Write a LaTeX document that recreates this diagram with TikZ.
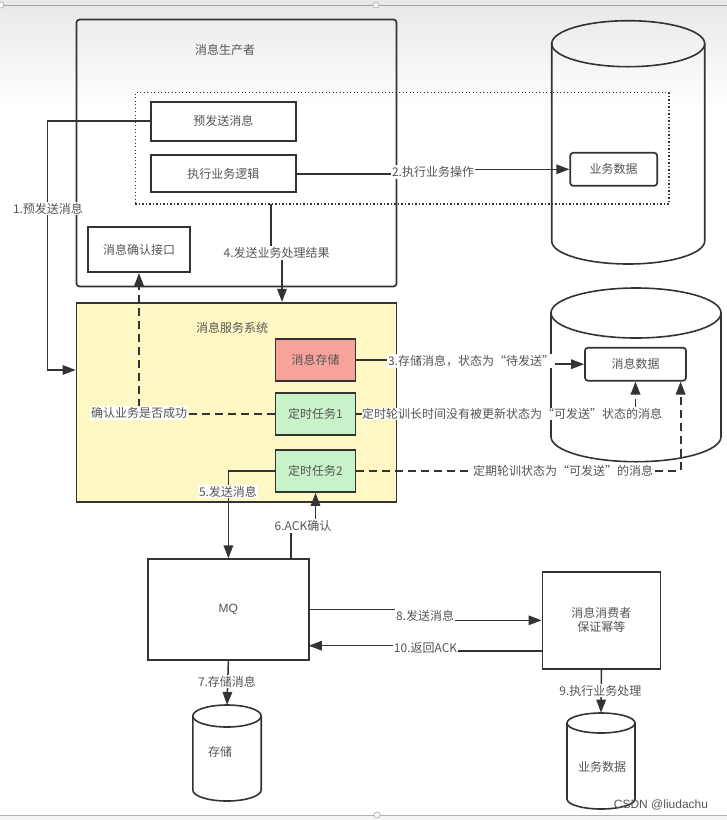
\documentclass[tikz,border=0pt]{standalone}
\usepackage{fontspec}
\setmainfont{Noto Sans CJK SC}
\usetikzlibrary{arrows.meta}
\definecolor{ln}{HTML}{333333}
\definecolor{tx}{HTML}{555555}
\definecolor{svcfill}{HTML}{FFF8C4}
\definecolor{storefill}{HTML}{F7A29B}
\definecolor{taskfill}{HTML}{C8F2C8}
\newcommand\drawcyl[5]{%
  \draw[cyl] (#1-#2,#3) -- (#1-#2,#4) arc[start angle=180,end angle=0,x radius=#2,y radius=#5] -- (#1+#2,#3);
  \draw[cyl] (#1,#3) ellipse[x radius=#2,y radius=#5];}
\tikzset{
  every node/.style={font=\fontsize{12}{14}\selectfont, text=tx},
  box/.style={draw=ln, line width=1.7pt, inner sep=0pt},
  rbox/.style={box, rounded corners=3pt},
  cyl/.style={draw=ln, line width=1.6pt},
  lbl/.style={fill=white, inner sep=1pt},
  arr/.style={draw=ln, line width=1.5pt, -{Triangle[length=13pt,width=9.5pt]}},
  dsh/.style={arr, line width=1.9pt, dash pattern=on 8pt off 5pt},
}
\begin{document}
\begin{tikzpicture}[x=1pt,y=-1pt]
\useasboundingbox (0,0) rectangle (727,820);
% background
\fill[white] (0,0) rectangle (727,820);
\shade[top color=black!9, bottom color=white] (0,0) rectangle (727,110);
\draw[gray!70, line width=0.8pt] (0,5) -- (727,5);
\draw[gray!70, fill=white, line width=0.6pt] (376,5) circle[radius=3];
\draw[gray!70, fill=white, line width=0.6pt] (1,5) circle[radius=3];
\fill[gray!8] (0,815) rectangle (727,820);
\draw[gray!60, line width=0.8pt] (0,815) -- (727,815);
\draw[gray!70, fill=white, line width=0.6pt] (377,815) circle[radius=3];

% cylinders
\drawcyl{628.2}{76.5}{43.7}{241}{23}
\drawcyl{636}{85}{313}{436.7}{25}
\drawcyl{227}{34.2}{716}{790}{11}
\drawcyl{601}{34}{723}{799}{10}
\coordinate (cyl3top) at (227,705);
\coordinate (cyl4top) at (601,712.7);
\node at (220,751.7) {存储};
\node at (602,766.7) {业务数据};

% producer
\node[box, rounded corners=3pt, minimum width=320pt, minimum height=267pt] (prod) at (236.5,153) {};
\node at (225,50) {消息生产者};
\node[draw=ln, line width=1.4pt, dash pattern=on 1.3pt off 2.2pt, minimum width=533.6pt, minimum height=111.3pt] (dot) at (402.2,148.35) {};
\node[box, minimum width=145pt, minimum height=39pt] (pre) at (223.25,121.2) {预发送消息};
\node[box, minimum width=145pt, minimum height=37pt] (exec) at (223.25,173.8) {执行业务逻辑};
\node[box, minimum width=102pt, minimum height=45pt] (ackif) at (139,249.7) {消息确认接口};
\node[rbox, fill=white, minimum width=87pt, minimum height=33pt] (biz1) at (613.7,169.3) {业务数据};

% service system
\node[box, fill=svcfill, minimum width=320pt, minimum height=199pt] (svc) at (236.5,402.2) {};
\node at (232,328) {消息服务系统};
\node[box, fill=storefill, minimum width=80pt, minimum height=42pt] (store) at (315.5,360) {消息存储};
\node[box, fill=taskfill, minimum width=80pt, minimum height=42.6pt] (task1) at (315.5,414) {定时任务1};
\node[box, fill=taskfill, minimum width=80pt, minimum height=42pt] (task2) at (315.5,471) {定时任务2};
\node[rbox, fill=white, minimum width=101pt, minimum height=33pt] (msgdata) at (635.5,364.2) {消息数据};

% MQ and consumer
\node[box, minimum width=161pt, minimum height=101pt] (mq) at (228.4,609.7) {\fontspec{Liberation Sans}\fontsize{12}{14}\selectfont MQ};
\node[box, minimum width=118pt, minimum height=96.7pt, align=center] (cons) at (601.4,620.3) {消息消费者\\[0pt]保证幂等};

% 1
\coordinate (c1) at (47.7,370);
\draw[arr] (pre.west) -| (c1) -- (c1 -| svc.west);
\node[lbl] at (48,208.7) {1.预发送消息};
% 2
\coordinate (c2) at (433,173.8);
\draw[arr] (exec.east) -- (c2) |- (biz1.west);
\node[lbl] at (433,172) {2.执行业务操作};
% 3
\coordinate (c3) at (471,360);
\draw[arr] (store.east) -- (c3) |- (msgdata.west);
\node[lbl] at (471,361) {3.存储消息，状态为“待发送”};
% 4
\coordinate (c4a) at (271,204);
\coordinate (c4b) at (271,253);
\coordinate (c4c) at (282,253);
\draw[arr] (c4a) -- (c4b) -- (c4c) -- (c4c |- svc.north);
\node[lbl] at (276.7,253) {4.发送业务处理结果};
% confirm dashed
\draw[dsh] (task1.west) -| (ackif.south);
\node[lbl] at (139,413) {确认业务是否成功};
% task1 -> msgdata dashed
\draw[dsh] (task1.east) -| (msgdata.south);
\node[lbl, inner sep=0.5pt] at (512,414) {定时轮训长时间没有被更新状态为“可发送”状态的消息};
% task2 -> msgdata dashed
\coordinate (c5) at (680.6,471);
\draw[dsh] (task2.east) -- (c5) -- (c5 |- msgdata.south);
\node[lbl] at (563,471) {定期轮训状态为“可发送”的消息};
% 5
\draw[arr] (task2.west) -| (mq.north);
\node[lbl] at (228,491.7) {5.发送消息};
% 6
\coordinate (c6a) at (291,559.3);
\coordinate (c6b) at (291,526);
\draw[arr] (c6a) -- (c6b) -| (task2.south);
\node[lbl] at (303,526) {6.ACK确认};
% 7
\draw[arr] (mq.south) -- (cyl3top);
\node[lbl] at (227,681.7) {7.存储消息};
% 8
\coordinate (c8) at (425,609.7);
\draw[arr] (mq.east) -- (c8) |- (cons.west);
\node[lbl] at (425,615.7) {8.发送消息};
% 10
\coordinate (c10a) at (542.4,651);
\coordinate (c10b) at (425,651);
\coordinate (c10c) at (308.8,645.7);
\draw[arr] (c10a) -- (c10b) |- (c10c);
\node[lbl] at (425.6,647.7) {10.返回ACK};
% 9
\draw[arr] (cons.south) -- (cyl4top);
\node[lbl] at (600.4,690.7) {9.执行业务处理};
% watermark
\node[text=gray!70!black, font=\fontspec{Liberation Sans}\fontsize{12}{14}\selectfont] at (661,805) {CSDN @liudachu};
\end{tikzpicture}
\end{document}
